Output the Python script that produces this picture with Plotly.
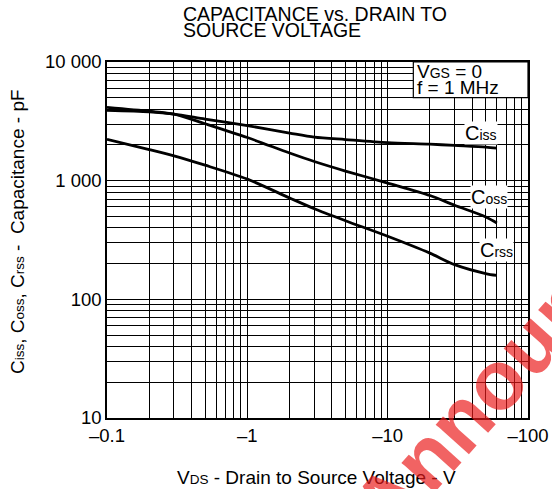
import plotly.graph_objects as go

# Data (|VDS| in volts, capacitance in pF)
vds = [0.1, 0.2, 0.3, 0.5, 1, 2, 3, 5, 10, 20, 30, 50, 60]
ciss = [3910, 3800, 3640, 3300, 2910, 2520, 2330, 2220, 2090, 2030, 1980, 1920, 1880]
coss = [4150, 3850, 3640, 3015, 2310, 1710, 1450, 1205, 955, 750, 620, 495, 440]
crss = [2230, 1830, 1620, 1350, 1030, 715, 580, 460, 340, 245, 196, 165, 159]

FONT = "Liberation Sans, Arial, Helvetica, sans-serif"

fig = go.Figure()
for name, vals in [("Ciss", ciss), ("Coss", coss), ("Crss", crss)]:
    fig.add_trace(go.Scatter(x=vds, y=vals, mode="lines", name=name,
                             line=dict(color="black", width=2.8, shape="spline", smoothing=0.8),
                             showlegend=False, hoverinfo="skip"))

axis_common = dict(type="log", dtick=1, showgrid=True, gridcolor="black", gridwidth=1,
                   minor=dict(dtick="D1", showgrid=True, gridcolor="black", gridwidth=1, ticks=""),
                   showline=True, linecolor="black", linewidth=1.5, mirror=True,
                   zeroline=False, ticks="", exponentformat="none", automargin=False,
                   tickfont=dict(family=FONT, size=18.5, color="black"))

fig.update_xaxes(range=[-1, 2], tickprefix="\u2013", **axis_common)
fig.update_yaxes(range=[1, 4], separatethousands=True, **axis_common)

def ann(text, x, y, size=19, xanchor="left", **kw):
    fig.add_annotation(text=text, x=x, y=y, xref="paper", yref="paper", showarrow=False,
                       xanchor=xanchor, yanchor="middle",
                       font=dict(family=FONT, size=size, color="black"), **kw)

# Title (two lines)
ann("CAPACITANCE vs. DRAIN TO", 0.175, 1.135, size=19.5)
ann("SOURCE VOLTAGE", 0.175, 1.09, size=19.5)

# Axis titles
ann("V<span style='font-size:13.5px'>DS</span> - Drain to Source Voltage - V", 0.498, -0.1685,
    size=19, xanchor="center")
ann("C<span style='font-size:13.5px'>iss</span>, C<span style='font-size:13.5px'>oss</span>, "
    "C<span style='font-size:13.5px'>rss</span> -  Capacitance - pF", -0.2138, 0.525,
    size=19, xanchor="center", textangle=-90)

# Conditions box
fig.add_shape(type="rect", xref="paper", yref="paper", x0=0.7276, x1=1, y0=0.8997, y1=1,
              fillcolor="white", line=dict(color="black", width=1.2), layer="above")
ann("V<span style='font-size:14px'>GS</span> = 0", 0.732, 0.972, size=19)
ann("f = 1 MHz", 0.732, 0.929, size=19)

# Curve labels
for txt, sub, x, y in [("C", "iss", 0.888, 0.8006), ("C", "oss", 0.907, 0.621), ("C", "rss", 0.924, 0.472)]:
    ann(f"{txt}<span style='font-size:14px'>{sub}</span>", x, y, size=20, xanchor="center",
        bgcolor="white", borderpad=0)

# Watermark
fig.add_annotation(text="<b>Announcement</b>", x=1.105, y=0.345, xref="paper", yref="paper",
                   showarrow=False, xanchor="center", yanchor="middle", textangle=-48.2,
                   font=dict(family=FONT, size=84, color="rgba(235,25,25,0.68)"))

fig.update_layout(width=552, height=489, margin=dict(l=107, r=24, t=62, b=71),
                  paper_bgcolor="white", plot_bgcolor="white", separators=". ",
                  font=dict(family=FONT, color="black"))

fig.write_html("out.html", config={"displayModeBar": False},
               post_script="document.body.style.margin='0';document.body.style.padding='0';")
